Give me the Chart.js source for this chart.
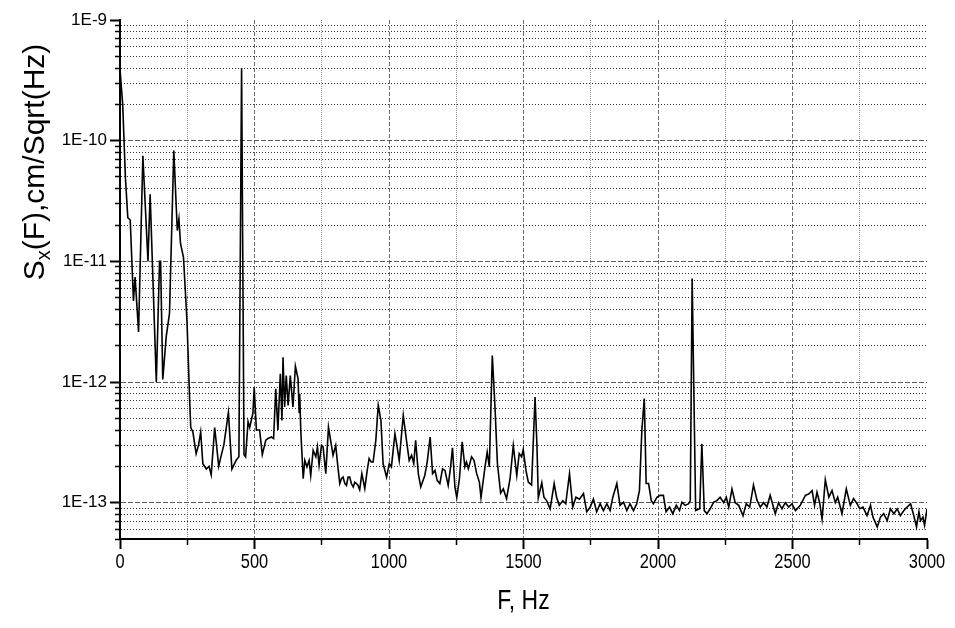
<!DOCTYPE html>
<html>
<head>
<meta charset="utf-8">
<script src="https://cdn.jsdelivr.net/npm/chart.js@4.4.1/dist/chart.umd.min.js"></script>
<style>
  html, body { margin: 0; padding: 0; background: #ffffff; }
  #wrap { width: 955px; height: 628px; }
</style>
</head>
<body>
<div id="wrap"><canvas id="c" width="955" height="628"></canvas></div>
<script>
// Frequency (Hz)
const F = [
  0, 10, 20, 29, 38, 50, 56, 60, 69, 85, 104, 112, 135, 147, 151, 159, 172, 184, 200, 213,
  219, 225, 236, 249, 259, 263, 271, 283, 292, 300, 308, 321, 331, 339, 352, 367, 377, 386, 403, 416,
  432, 442, 452, 461, 467, 476, 482, 488, 494, 499, 507, 519, 529, 542, 550, 563, 571, 579, 587, 596,
  602, 606, 612, 618, 625, 633, 643, 652, 662, 666, 668, 672, 681, 687, 695, 703, 709, 718, 728, 734,
  740, 749, 755, 765, 775, 783, 792, 802, 810, 817, 823, 829, 836, 842, 848, 854, 860, 867, 873, 879,
  885, 891, 899, 910, 919, 926, 934, 941, 951, 960, 970, 978, 991, 1001, 1009, 1022, 1028, 1038, 1053, 1065,
  1075, 1084, 1092, 1099, 1109, 1118, 1133, 1142, 1153, 1162, 1171, 1179, 1189, 1199, 1208, 1220, 1229, 1236, 1245, 1252,
  1262, 1272, 1282, 1288, 1295, 1307, 1316, 1326, 1336, 1342, 1357, 1365, 1373, 1384, 1394, 1403, 1415, 1425, 1437, 1450,
  1462, 1475, 1484, 1493, 1499, 1509, 1518, 1530, 1543, 1550, 1555, 1568, 1576, 1586, 1599, 1614, 1623, 1633, 1646, 1657,
  1671, 1683, 1695, 1708, 1723, 1735, 1748, 1760, 1772, 1785, 1797, 1810, 1822, 1832, 1847, 1859, 1872, 1884, 1896, 1909,
  1921, 1931, 1940, 1949, 1953, 1956, 1965, 1975, 1983, 1996, 2008, 2020, 2030, 2043, 2055, 2068, 2080, 2089, 2101, 2114,
  2120, 2127, 2140, 2155, 2163, 2172, 2182, 2194, 2207, 2219, 2231, 2244, 2254, 2263, 2275, 2287, 2300, 2316, 2328, 2341,
  2355, 2368, 2380, 2393, 2405, 2417, 2436, 2448, 2461, 2473, 2486, 2498, 2511, 2529, 2548, 2560, 2573, 2582, 2591, 2601,
  2610, 2622, 2635, 2647, 2659, 2668, 2684, 2700, 2715, 2727, 2740, 2750, 2762, 2777, 2790, 2799, 2815, 2827, 2839, 2852,
  2864, 2877, 2889, 2901, 2914, 2926, 2939, 2951, 2961, 2970, 2976, 2985, 2991, 3000
];
// Spectral density Sx(F), cm/Sqrt(Hz)
const S = [
  3.9e-10, 2.0e-10, 5.0e-11, 2.3e-11, 2.2e-11, 4.7e-12, 7.4e-12, 5.4e-12, 2.6e-12, 7.5e-11, 1.0e-11, 3.6e-11, 1.0e-12, 1.0e-11, 1.0e-11, 1.05e-12, 2.4e-12, 3.7e-12, 8.3e-11, 1.8e-11,
  2.25e-11, 1.4e-11, 1.08e-11, 3.2e-12, 7.0e-13, 4.2e-13, 3.85e-13, 2.55e-13, 3.0e-13, 3.85e-13, 2.1e-13, 1.9e-13, 2.0e-13, 1.7e-13, 4.2e-13, 2.0e-13, 2.5e-13, 3.0e-13, 5.6e-13, 1.9e-13,
  2.25e-13, 2.4e-13, 4.0e-10, 2.5e-13, 2.4e-13, 4.7e-13, 4.2e-13, 4.8e-13, 5.5e-13, 9.0e-13, 4.0e-13, 4.0e-13, 2.5e-13, 3.3e-13, 3.4e-13, 3.5e-13, 3.4e-13, 8.8e-13, 4.0e-13, 1.17e-12,
  4.8e-13, 1.6e-12, 6.2e-13, 1.13e-12, 6.4e-13, 1.13e-12, 6.2e-13, 1.35e-12, 1.06e-12, 5.6e-13, 8.0e-13, 4.0e-13, 1.58e-13, 2.24e-13, 1.98e-13, 2.24e-13, 1.68e-13, 2.72e-13, 2.4e-13, 2.9e-13,
  2.05e-13, 2.98e-13, 2.9e-13, 1.74e-13, 4.23e-13, 3.28e-13, 2.47e-13, 2.98e-13, 1.98e-13, 1.44e-13, 1.58e-13, 1.63e-13, 1.44e-13, 1.39e-13, 1.63e-13, 1.63e-13, 1.44e-13, 1.35e-13, 1.48e-13, 1.44e-13,
  1.39e-13, 1.28e-13, 1.74e-13, 1.31e-13, 1.85e-13, 2.32e-13, 2.17e-13, 2.17e-13, 3.28e-13, 6.4e-13, 4.8e-13, 2.11e-13, 1.63e-13, 2.11e-13, 1.98e-13, 3.73e-13, 3.1e-13, 2.24e-13, 5.3e-13, 3.28e-13,
  2.24e-13, 2.47e-13, 2.11e-13, 3.28e-13, 1.74e-13, 1.35e-13, 1.68e-13, 2.17e-13, 3.5e-13, 1.74e-13, 1.85e-13, 1.53e-13, 1.44e-13, 1.91e-13, 1.85e-13, 1.39e-13, 1.98e-13, 2.85e-13, 1.35e-13, 1.1e-13,
  1.6e-13, 3.2e-13, 1.98e-13, 2.17e-13, 1.91e-13, 2.4e-13, 2.24e-13, 1.74e-13, 1.48e-13, 1.1e-13, 1.98e-13, 2.63e-13, 1.98e-13, 1.66e-12, 6.2e-13, 2.11e-13, 1.2e-13, 1.3e-13, 1.08e-13, 1.58e-13,
  2.98e-13, 1.68e-13, 2.55e-13, 2.4e-13, 2.75e-13, 1.85e-13, 1.48e-13, 1.4e-13, 7.5e-13, 2.98e-13, 1.1e-13, 1.46e-13, 1.11e-13, 1.04e-13, 8.9e-14, 1.44e-13, 1.11e-13, 9.5e-14, 1.04e-13, 9.8e-14,
  1.74e-13, 9.2e-14, 1.11e-13, 1.07e-13, 1.19e-13, 8.4e-14, 9.2e-14, 1.07e-13, 8.4e-14, 9.8e-14, 8.6e-14, 9.8e-14, 8.6e-14, 1.11e-13, 1.44e-13, 9.5e-14, 1.01e-13, 8.6e-14, 9.8e-14, 8.6e-14,
  9.8e-14, 1.26e-13, 4.0e-13, 7.3e-13, 2.9e-13, 1.44e-13, 1.44e-13, 1.04e-13, 9.8e-14, 1.11e-13, 1.15e-13, 1.15e-13, 8.4e-14, 9.2e-14, 8.1e-14, 9.5e-14, 8.6e-14, 1.01e-13, 9.5e-14, 9.8e-14,
  1.04e-13, 7.2e-12, 8.6e-14, 8.9e-14, 3.08e-13, 8.6e-14, 8.1e-14, 8.9e-14, 1.01e-13, 1.04e-13, 1.11e-13, 1.0e-13, 1.11e-13, 9.2e-14, 1.3e-13, 1.0e-13, 9.5e-14, 7.8e-14, 9.8e-14, 9.2e-14,
  1.4e-13, 1.05e-13, 9.2e-14, 1.0e-13, 9.2e-14, 1.15e-13, 8.1e-14, 1.0e-13, 8.9e-14, 1.0e-13, 9.2e-14, 9.8e-14, 8.6e-14, 9.5e-14, 1.15e-13, 1.18e-13, 1.26e-13, 9.5e-14, 1.22e-13, 1.0e-13,
  7.3e-14, 1.55e-13, 1.11e-13, 1.26e-13, 1.0e-13, 1.11e-13, 8.1e-14, 1.3e-13, 9.5e-14, 1.08e-13, 9.8e-14, 8.9e-14, 9.2e-14, 7.8e-14, 9.5e-14, 7.6e-14, 6.3e-14, 7.6e-14, 8.1e-14, 7.1e-14,
  8.9e-14, 8.1e-14, 8.9e-14, 7.8e-14, 8.6e-14, 9.2e-14, 9.8e-14, 7.8e-14, 6.3e-14, 8.4e-14, 7.1e-14, 7.6e-14, 6.5e-14, 8.9e-14
];

// Axis tick values and labels
const xTickStep = 250;
const xTickLabels = ['0', '500', '1000', '1500', '2000', '2500', '3000'];
const xLabelValues = [0, 500, 1000, 1500, 2000, 2500, 3000];
const yDecades = [1e-13, 1e-12, 1e-11, 1e-10, 1e-9];
const yTickLabels = ['1E-13', '1E-12', '1E-11', '1E-10', '1E-9'];
const yMin = 5e-14, yMax = 1e-9;
const xTitle = 'F, Hz';
const yTitleMain = 'S', yTitleSub = 'x', yTitleRest = '(F),cm/Sqrt(Hz)';

// log-axis tick positions: 1..9 x 10^n inside the range
const yTickValues = [];
for (let e = -14; e <= -9; e++) {
  for (let m = 1; m <= 9; m++) {
    const v = m * Math.pow(10, e);
    if (v >= yMin * 0.999999 && v <= yMax * 1.000001) yTickValues.push(v);
  }
}
function decadeIndex(v) {
  for (let i = 0; i < yDecades.length; i++) {
    if (Math.abs(v / yDecades[i] - 1) < 1e-6) return i;
  }
  return -1;
}
const isXMajor = v => v % 500 === 0;
const NARROW = 0.82; // horizontal condensing of the x-axis lettering

// Y title with a subscript
const yTitlePlugin = {
  id: 'yTitle',
  afterDraw(chart) {
    const ctx = chart.ctx;
    ctx.save();
    ctx.translate(36, 162);
    ctx.rotate(-Math.PI / 2);
    ctx.fillStyle = '#000';
    ctx.textBaseline = 'middle';
    const big = '30px "Liberation Sans", Arial, sans-serif';
    const small = '20px "Liberation Sans", Arial, sans-serif';
    ctx.font = big;
    const w1 = ctx.measureText(yTitleMain).width;
    const w3 = ctx.measureText(yTitleRest).width;
    ctx.font = small;
    const w2 = ctx.measureText(yTitleSub).width;
    const total = w1 + w2 + w3;
    let x = -total / 2;
    ctx.textAlign = 'left';
    ctx.font = big;
    ctx.fillText(yTitleMain, x, 0);
    x += w1;
    ctx.font = small;
    ctx.fillText(yTitleSub, x, 8);
    x += w2;
    ctx.font = big;
    ctx.fillText(yTitleRest, x, 0);
    ctx.restore();
  }
};

// X tick labels and title in a condensed face (taken from the x scale's own ticks)
const xNarrowPlugin = {
  id: 'xNarrow',
  afterDraw(chart) {
    const sc = chart.scales.x;
    const ctx = chart.ctx;
    ctx.save();
    ctx.fillStyle = '#000';
    ctx.textAlign = 'center';
    ctx.textBaseline = 'top';
    ctx.font = '20px "Liberation Sans", Arial, sans-serif';
    sc.ticks.forEach((t, i) => {
      if (!t.label) return;
      const px = sc.getPixelForTick(i);
      ctx.save();
      ctx.translate(px, sc.top + 13);
      ctx.scale(NARROW, 1);
      ctx.fillText(t.label, 0, 0);
      ctx.restore();
    });
    ctx.font = '28px "Liberation Sans", Arial, sans-serif';
    ctx.textBaseline = 'middle';
    ctx.translate((sc.left + sc.right) / 2, sc.top + 62);
    ctx.scale(NARROW, 1);
    ctx.fillText(xTitle, 0, 0);
    ctx.restore();
  }
};

new Chart(document.getElementById('c'), {
  type: 'line',
  data: {
    datasets: [{
      data: F.map((f, i) => ({ x: f, y: S[i] })),
      borderColor: '#000000',
      borderWidth: 1.6,
      pointRadius: 0,
      tension: 0,
      fill: false
    }]
  },
  options: {
    responsive: false,
    animation: false,
    devicePixelRatio: 1,
    layout: { padding: { top: 20, right: 28, left: 0, bottom: 0 } },
    plugins: { legend: { display: false }, tooltip: { enabled: false } },
    scales: {
      x: {
        type: 'linear',
        min: 0, max: 3000,
        afterFit: s => { s.height = 89; },
        ticks: {
          display: false,
          stepSize: xTickStep,
          autoSkip: false,
          maxRotation: 0,
          callback: v => { const i = xLabelValues.indexOf(v); return i >= 0 ? xTickLabels[i] : ''; }
        },
        grid: {
          drawTicks: true,
          tickLength: 10,
          color: c => {
            const v = c.tick ? c.tick.value : 0;
            if (v === 0 || v === 3000) return 'rgba(0,0,0,0)';
            return isXMajor(v) ? '#6e6e6e' : '#8a8a8a';
          },
          lineWidth: 1,
          tickColor: '#000',
          tickWidth: c => (c.tick && isXMajor(c.tick.value)) ? 2 : 1.5,
          tickBorderDash: c => (c.tick && isXMajor(c.tick.value)) ? [] : [5, 100]
        },
        border: {
          display: true,
          color: '#000',
          width: 2,
          dash: c => {
            if (!c.tick) return [];
            return isXMajor(c.tick.value) ? [4, 2] : [1, 1];
          }
        },
        title: { display: false }
      },
      y: {
        type: 'logarithmic',
        min: yMin, max: yMax,
        afterFit: s => { s.width = 120; },
        afterBuildTicks: s => { s.ticks = yTickValues.map(v => ({ value: v })); },
        ticks: {
          autoSkip: false,
          padding: 3,
          color: '#000',
          font: { family: '"Liberation Sans", Arial, sans-serif', size: 17 },
          callback: v => { const i = decadeIndex(v); return i >= 0 ? yTickLabels[i] : ''; }
        },
        grid: {
          drawTicks: true,
          tickLength: 10,
          color: c => {
            const v = c.tick ? c.tick.value : 0;
            if (Math.abs(v / yMax - 1) < 1e-6 || Math.abs(v / yMin - 1) < 1e-6) return 'rgba(0,0,0,0)';
            return decadeIndex(v) >= 0 ? '#5a5a5a' : '#303030';
          },
          lineWidth: 1,
          tickColor: '#000',
          tickWidth: c => (c.tick && decadeIndex(c.tick.value) >= 0) ? 2 : 1.5,
          tickBorderDash: c => (c.tick && decadeIndex(c.tick.value) >= 0) ? [] : [0, 5, 5, 100]
        },
        border: {
          display: true,
          color: '#000',
          width: 2,
          dash: c => {
            if (!c.tick) return [];
            return decadeIndex(c.tick.value) >= 0 ? [5, 2] : [1, 2];
          }
        }
      }
    }
  },
  plugins: [yTitlePlugin, xNarrowPlugin]
});
</script>
</body>
</html>
